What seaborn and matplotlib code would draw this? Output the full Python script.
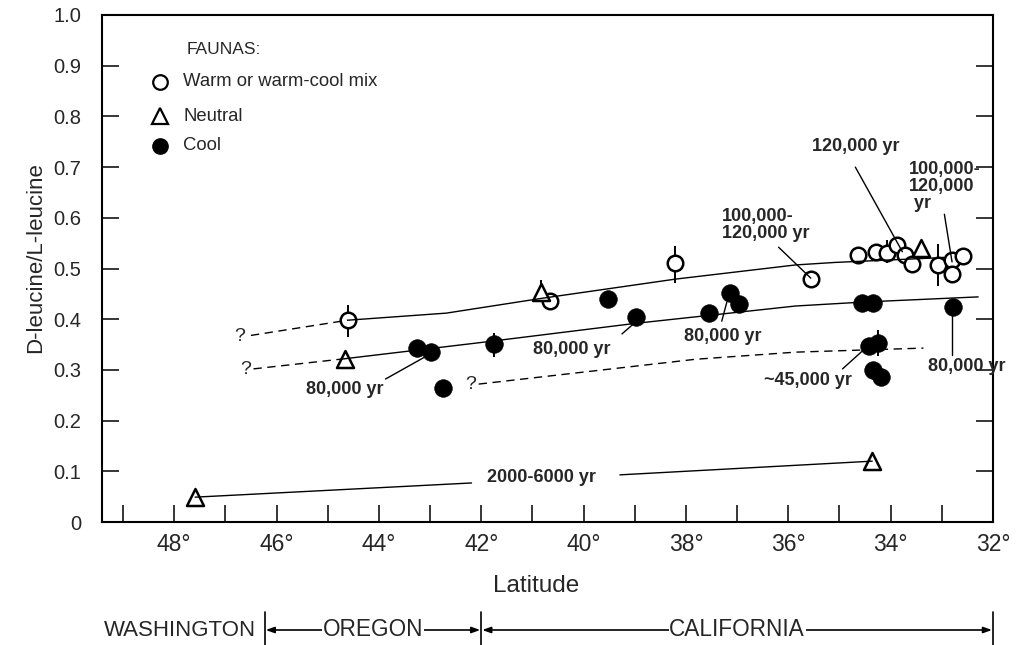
import numpy as np
import pandas as pd
import matplotlib
matplotlib.use("Agg")
import matplotlib.pyplot as plt
import seaborn as sns
from matplotlib import transforms

sns.set_style("white")
plt.rcParams['font.family'] = ['Liberation Sans', 'DejaVu Sans']

# ---------------- data ----------------
warm_lat = [44.61, 40.66, 38.21, 35.56, 34.63, 34.28, 34.08, 33.87, 33.71, 33.58, 33.07, 32.80, 32.80, 32.58]
warm_val = [0.398, 0.435, 0.511, 0.479, 0.527, 0.533, 0.531, 0.546, 0.527, 0.509, 0.507, 0.517, 0.489, 0.525]

neutral_lat = [44.67, 40.83, 33.40, 47.59, 34.36]
neutral_val = [0.322, 0.454, 0.540, 0.049, 0.120]

cool_lat = [43.26, 42.99, 42.74, 41.76, 39.52, 38.97, 37.55, 37.14, 36.97, 34.55, 34.34, 32.78, 34.43, 34.24, 34.35, 34.18]
cool_val = [0.343, 0.335, 0.264, 0.351, 0.440, 0.404, 0.412, 0.452, 0.430, 0.432, 0.432, 0.424, 0.347, 0.353, 0.300, 0.286]

# error bars (latitude, low, high)
err_lat = [44.61, 40.83, 38.21, 41.76, 34.08, 33.07, 34.24]
err_lo = [0.365, 0.440, 0.471, 0.325, 0.511, 0.465, 0.327]
err_hi = [0.428, 0.477, 0.544, 0.373, 0.556, 0.548, 0.379]

# trend lines
upper_dash_lat = [46.50, 44.61]
upper_dash_val = [0.368, 0.398]
upper_lat = [44.61, 42.68, 40.83, 38.21, 35.86, 35.08, 33.10, 32.95]
upper_val = [0.398, 0.412, 0.441, 0.479, 0.507, 0.512, 0.521, 0.522]

mid_dash_lat = [46.45, 44.67]
mid_dash_val = [0.302, 0.322]
mid_lat = [44.67, 42.09, 38.97, 35.86, 34.50, 32.29]
mid_val = [0.322, 0.353, 0.392, 0.426, 0.434, 0.444]

low_dash_lat = [42.05, 39.80, 37.81, 35.86, 33.36]
low_dash_val = [0.272, 0.298, 0.321, 0.335, 0.343]

young_lat_a = [47.59, 42.19]
young_val_a = [0.049, 0.077]
young_lat_b = [39.29, 34.36]
young_val_b = [0.093, 0.120]

# "?" marks
q_lat = [46.72, 46.60, 42.21]
q_val = [0.366, 0.300, 0.272]

# age labels: text, position, horizontal alignment
age_text = ["80,000 yr", "80,000 yr", "80,000 yr", "~45,000 yr", "80,000 yr",
            "120,000 yr", "100,000-\n120,000\n yr", "100,000-\n120,000 yr", "2000-6000 yr"]
age_lat = [44.67, 40.24, 37.28, 35.62, 32.52, 34.69, 33.65, 37.30, 40.83]
age_val = [0.262, 0.341, 0.365, 0.280, 0.306, 0.740, 0.661, 0.586, 0.087]
age_ha = ["center", "center", "center", "center", "center", "center", "left", "left", "center"]

# leader lines (from, to)
lead_lat0 = [43.87, 39.25, 37.30, 34.94, 32.80, 34.69, 32.95, 36.19]
lead_val0 = [0.282, 0.371, 0.396, 0.302, 0.329, 0.700, 0.607, 0.542]
lead_lat1 = [43.11, 39.01, 37.20, 34.49, 32.80, 33.77, 32.80, 35.56]
lead_val1 = [0.325, 0.392, 0.434, 0.343, 0.414, 0.533, 0.513, 0.481]

x_major = [48, 46, 44, 42, 40, 38, 36, 34, 32]
x_labels = ["48°", "46°", "44°", "42°", "40°", "38°", "36°", "34°", "32°"]
x_minor = [49, 47, 45, 43, 41, 39, 37, 35, 33]
y_ticks = [0, 0.1, 0.2, 0.3, 0.4, 0.5, 0.6, 0.7, 0.8, 0.9, 1.0]
y_labels = ["0", "0.1", "0.2", "0.3", "0.4", "0.5", "0.6", "0.7", "0.8", "0.9", "1.0"]

state_names = ["WASHINGTON", "OREGON", "CALIFORNIA"]
state_bounds = [46.23, 42.0, 32.0]

legend_labels = ["Warm or warm-cool mix", "Neutral", "Cool"]

# ---------------- figure ----------------
fig = plt.figure(figsize=(10.16, 6.45), dpi=100)
ax = fig.add_axes([102 / 1016, 1 - 522 / 645, 891 / 1016, 507 / 645])

# error bars (behind markers)
ax.vlines(err_lat, err_lo, err_hi, color="black", lw=1.4, zorder=2)

# markers
sns.scatterplot(x=cool_lat, y=cool_val, marker="o", s=160, color="black",
                edgecolor="black", linewidth=0.5, ax=ax, zorder=3)
sns.scatterplot(x=warm_lat, y=warm_val, marker="o", s=125, color="white",
                edgecolor="black", linewidth=1.8, ax=ax, zorder=3)
sns.scatterplot(x=neutral_lat, y=neutral_val, marker="^", s=150, color="white",
                edgecolor="black", linewidth=1.8, ax=ax, zorder=3)

# trend lines
dash = (0, (6, 4))
for xs, ys, ls in [(upper_dash_lat, upper_dash_val, dash), (upper_lat, upper_val, "-"),
                   (mid_dash_lat, mid_dash_val, dash), (mid_lat, mid_val, "-"),
                   (low_dash_lat, low_dash_val, dash),
                   (young_lat_a, young_val_a, "-"), (young_lat_b, young_val_b, "-")]:
    sns.lineplot(x=xs, y=ys, sort=False, estimator=None, color="black", lw=1.0,
                 linestyle=ls, ax=ax, zorder=4)

for la, va in zip(q_lat, q_val):
    ax.text(la, va, "?", ha="center", va="center", fontsize=14, zorder=5)

for la0, va0, la1, va1 in zip(lead_lat0, lead_val0, lead_lat1, lead_val1):
    ax.plot([la0, la1], [va0, va1], color="black", lw=1.0, zorder=4)

for t, la, va, ha in zip(age_text, age_lat, age_val, age_ha):
    ax.text(la, va, t, ha=ha, va="center", fontsize=13, fontweight="bold",
            linespacing=1.0, zorder=5, clip_on=False)

# axes styling
ax.set_xlim(49.41, 32.0)
ax.set_ylim(0, 1.0)
ax.set_xticks(x_major)
ax.set_xticklabels(x_labels, fontsize=16.5)
ax.set_xticks(x_minor, minor=True)
ax.set_yticks(y_ticks)
ax.set_yticklabels(y_labels, fontsize=14.5)
ax.tick_params(axis="x", which="both", direction="in", length=12, width=1.3,
               bottom=True, top=False, pad=8)
ax.tick_params(axis="y", which="both", direction="in", length=12, width=1.3,
               left=True, right=True, pad=15)
for sp in ax.spines.values():
    sp.set_linewidth(1.5)
    sp.set_color("black")
ax.grid(False)

ax.set_xlabel("Latitude", fontsize=17.5)
ax.xaxis.set_label_coords(0.487, -0.104)
ax.set_ylabel("D-leucine/L-leucine", fontsize=16)
ax.yaxis.set_label_coords(-0.063, 0.521)

# legend (manual)
ax.text(0.095, 0.932, "FAUNAS:", transform=ax.transAxes, fontsize=12.5, va="center", ha="left")
leg_y = [0.868, 0.800, 0.742]
leg_style = [dict(marker="o", mfc="white", mec="black", mew=1.6, ms=10.5),
             dict(marker="^", mfc="white", mec="black", mew=1.6, ms=11),
             dict(marker="o", mfc="black", mec="black", mew=1.0, ms=11)]
for yy, lab, st in zip(leg_y, legend_labels, leg_style):
    ax.plot([0.065], [yy], transform=ax.transAxes, ls="none", clip_on=False, **st)
    ax.text(0.091, yy, lab, transform=ax.transAxes, fontsize=13.3, va="center", ha="left")

# state bar
bt = transforms.blended_transform_factory(ax.transData, fig.transFigure)
yb = 1 - 630 / 645
for b in state_bounds:
    ax.plot([b, b], [0, 1 - 612 / 645], transform=bt, color="black", lw=1.2, clip_on=False)
ax.text(46.40, yb, state_names[0], transform=bt, ha="right", va="center", fontsize=16)
for (x0, x1), name in zip([(46.23, 42.0), (42.0, 32.0)], state_names[1:]):
    ax.annotate("", xy=(x1 + 0.02, yb), xytext=(x0 - 0.02, yb), xycoords=bt, textcoords=bt,
                arrowprops=dict(arrowstyle="<|-|>,head_length=0.5,head_width=0.18",
                                color="black", lw=1.2, shrinkA=0, shrinkB=0),
                annotation_clip=False)
    ax.text((x0 + x1) / 2, yb, name, transform=bt,
            ha="center", va="center", fontsize=16.3,
            bbox=dict(facecolor="white", edgecolor="none", pad=0.5), zorder=6)

fig.savefig("out.png", dpi=100, facecolor="white")
